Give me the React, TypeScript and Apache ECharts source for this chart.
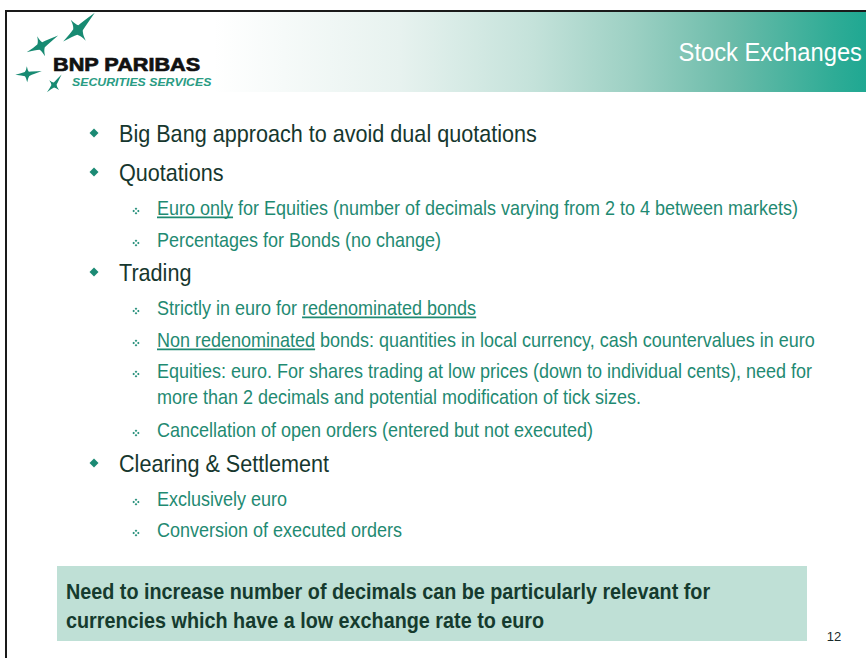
import React, { useEffect, useRef } from "react";
import * as echarts from "echarts";

// ---------- content ----------
const TITLE = "Stock Exchanges";
const LOGO_NAME = "BNP PARIBAS";
const LOGO_SUB = "SECURITIES SERVICES";
const PAGE_NUMBER = "12";

const outlineLevels = [1, 1, 2, 2, 1, 2, 2, 2, 2, 1, 2, 2];
const outlineTexts = [
  "Big Bang approach to avoid dual quotations",
  "Quotations",
  "Euro only for Equities (number of decimals varying from 2 to 4 between markets)",
  "Percentages for Bonds (no change)",
  "Trading",
  "Strictly in euro for redenominated bonds",
  "Non redenominated bonds: quantities in local currency, cash countervalues in euro",
  "Equities: euro. For shares trading at low prices (down to individual cents), need for\nmore than 2 decimals and potential modification of tick sizes.",
  "Cancellation of open orders (entered but not executed)",
  "Clearing & Settlement",
  "Exclusively euro",
  "Conversion of executed orders",
];
const underlineItems = [2, 5, 6];
const underlineTexts = ["Euro only", "redenominated bonds", "Non redenominated"];

const calloutLines = [
  "Need to increase number of decimals can be particularly relevant for",
  "currencies which have a low exchange rate to euro",
];

// ---------- layout ----------
const rowMiddles = [134, 173, 208, 240, 273, 308, 340, 371, 430, 464, 499, 530];
const LINE_GAP = 26;
const SX = 0.9;
const FONT_FAMILY = "'Liberation Sans', Arial, Helvetica, sans-serif";
const MAIN_SIZE = 24;
const SUB_SIZE = 20;
const MAIN_X = 119;
const SUB_X = 157;
const MAIN_BULLET_X = 94;
const SUB_BULLET_X = 136;

const C_MAIN = "#16372e";
const C_SUB = "#1f8a72";
const C_BULLET = "#1b8a74";
const C_BOX = "#bfe0d6";
const C_BOXTEXT = "#153b2e";

// bird (star) shape for the logo
const birdArms: [number, number][] = [
  [-40, 100],
  [60, 55],
  [148, 78],
  [240, 52],
];
function birdPath(): string {
  const n = birdArms.length;
  const P = (ang: number, r: number) => {
    const a = (ang * Math.PI) / 180;
    return [Math.cos(a) * r, Math.sin(a) * r];
  };
  let d = "";
  for (let i = 0; i < n; i++) {
    const [a, l] = birdArms[i];
    const [a2] = birdArms[(i + 1) % n];
    const end = a2 < a ? a2 + 360 : a2;
    const mid = (a + end) / 2;
    const tip = P(a, l);
    const inner = P(mid, 20);
    const c1 = P(a + 12, l * 0.45);
    const c2 = P(end - 12, birdArms[(i + 1) % n][1] * 0.45);
    if (i === 0) d += `M${tip[0].toFixed(2)},${tip[1].toFixed(2)}`;
    d += `Q${c1[0].toFixed(2)},${c1[1].toFixed(2)} ${inner[0].toFixed(2)},${inner[1].toFixed(2)}`;
    const nt = P(birdArms[(i + 1) % n][0], birdArms[(i + 1) % n][1]);
    d += `Q${c2[0].toFixed(2)},${c2[1].toFixed(2)} ${nt[0].toFixed(2)},${nt[1].toFixed(2)}`;
  }
  return d + "Z";
}

let registered = false;
function ensureShapes() {
  if (registered) return;
  registered = true;
  echarts.graphic.registerShape("logo", echarts.graphic.extendPath(birdPath(), {}) as any);
}

function measure(text: string, size: number, bold = false): number {
  const c = document.createElement("canvas");
  const ctx = c.getContext("2d");
  if (!ctx) return text.length * size * 0.5;
  ctx.font = `${bold ? "bold " : ""}${size}px ${FONT_FAMILY}`;
  return ctx.measureText(text).width;
}

function diamond(cx: number, cy: number, r: number, fill: string) {
  return {
    type: "polygon",
    silent: true,
    shape: { points: [[cx, cy - r], [cx + r, cy], [cx, cy + r], [cx - r, cy]] },
    style: { fill },
  };
}

function buildGraphics() {
  const els: any[] = [];
  // header gradient band
  els.push({
    type: "rect",
    silent: true,
    shape: { x: 214, y: 12, width: 652, height: 80 },
    style: {
      fill: new echarts.graphic.LinearGradient(0, 0, 1, 0, [
        { offset: 0, color: "#ffffff" },
        { offset: 0.285, color: "#e7f2ef" },
        { offset: 0.49, color: "#c4e2da" },
        { offset: 0.643, color: "#9cd0c3" },
        { offset: 0.796, color: "#6abba9" },
        { offset: 0.95, color: "#2fac96" },
        { offset: 1, color: "#1fa892" },
      ]),
    },
  });
  // borders
  els.push({ type: "rect", silent: true, shape: { x: 6, y: 10, width: 860, height: 2 }, style: { fill: "#1a1a1a" } });
  els.push({ type: "rect", silent: true, shape: { x: 5, y: 10, width: 2, height: 648 }, style: { fill: "#1a1a1a" } });

  // title
  els.push({
    type: "text",
    silent: true,
    x: 862,
    y: 52,
    scaleX: 0.95,
    style: {
      text: TITLE,
      font: `25px ${FONT_FAMILY}`,
      fill: "#ffffff",
      align: "right",
      verticalAlign: "middle",
    },
  });

  // logo birds
  const birds = [
    { x: 78, y: 30, s: 0.24, r: 0.1 },
    { x: 41, y: 46, s: 0.2, r: -0.15 },
    { x: 27, y: 74, s: 0.15, r: -0.5 },
    { x: 54, y: 85, s: 0.13, r: 0.25 },
  ];
  birds.forEach((b) => {
    els.push({
      type: "logo",
      silent: true,
      x: b.x,
      y: b.y,
      scaleX: b.s,
      scaleY: b.s,
      rotation: b.r,
      style: { fill: "#178a72" },
    });
  });
  els.push({
    type: "text",
    silent: true,
    x: 53,
    y: 64,
    scaleX: 1.14,
    style: {
      text: LOGO_NAME,
      font: `bold 19px ${FONT_FAMILY}`,
      fill: "#111111",
      stroke: "#111111",
      lineWidth: 0.7,
      align: "left",
      verticalAlign: "middle",
    },
  });
  els.push({
    type: "text",
    silent: true,
    x: 72,
    y: 82,
    scaleX: 1.12,
    style: {
      text: LOGO_SUB,
      font: `italic bold 11px ${FONT_FAMILY}`,
      fill: "#2a9c84",
      align: "left",
      verticalAlign: "middle",
    },
  });

  // outline
  outlineTexts.forEach((txt, i) => {
    const level = outlineLevels[i];
    const mid = rowMiddles[i];
    const size = level === 1 ? MAIN_SIZE : SUB_SIZE;
    const x = level === 1 ? MAIN_X : SUB_X;
    const color = level === 1 ? C_MAIN : C_SUB;
    if (level === 1) {
      els.push(diamond(MAIN_BULLET_X, mid - 1, 4.5, C_BULLET));
    } else {
      const cy = mid + 3;
      const d = 2.3;
      els.push(diamond(SUB_BULLET_X, cy - d, 1.3, C_BULLET));
      els.push(diamond(SUB_BULLET_X, cy + d, 1.3, C_BULLET));
      els.push(diamond(SUB_BULLET_X - d, cy, 1.3, C_BULLET));
      els.push(diamond(SUB_BULLET_X + d, cy, 1.3, C_BULLET));
    }
    const lines = txt.split("\n");
    lines.forEach((ln, k) => {
      els.push({
        type: "text",
        silent: true,
        x,
        y: mid + k * LINE_GAP,
        scaleX: SX,
        style: {
          text: ln,
          font: `${size}px ${FONT_FAMILY}`,
          fill: color,
          align: "left",
          verticalAlign: "middle",
        },
      });
    });
    const ui = underlineItems.indexOf(i);
    if (ui >= 0) {
      const sub = underlineTexts[ui];
      const pos = txt.indexOf(sub);
      if (pos >= 0) {
        const x0 = x + measure(txt.slice(0, pos), size) * SX;
        const w = measure(sub, size) * SX;
        els.push({
          type: "rect",
          silent: true,
          shape: { x: x0, y: mid + 8.5, width: w, height: 1.8 },
          style: { fill: C_SUB },
        });
      }
    }
  });

  // callout box
  els.push({
    type: "rect",
    silent: true,
    shape: { x: 57, y: 566, width: 750, height: 75 },
    style: { fill: C_BOX },
  });
  calloutLines.forEach((ln, k) => {
    els.push({
      type: "text",
      silent: true,
      x: 66,
      y: 591 + k * 29,
      scaleX: SX,
      style: {
        text: ln,
        font: `bold 22px ${FONT_FAMILY}`,
        fill: C_BOXTEXT,
        align: "left",
        verticalAlign: "middle",
      },
    });
  });

  // page number
  els.push({
    type: "text",
    silent: true,
    x: 834,
    y: 636,
    style: {
      text: PAGE_NUMBER,
      font: `13px ${FONT_FAMILY}`,
      fill: "#1a2a2a",
      align: "center",
      verticalAlign: "middle",
    },
  });
  return els;
}

export default function App() {
  const ref = useRef<HTMLDivElement>(null);
  useEffect(() => {
    if (!ref.current) return;
    ensureShapes();
    const chart = echarts.init(ref.current, undefined, { renderer: "svg" });
    chart.setOption({
      animation: false,
      backgroundColor: "#ffffff",
      graphic: { elements: buildGraphics() },
    });
    return () => chart.dispose();
  }, []);
  return (
    <div
      ref={ref}
      style={{ position: "fixed", left: 0, top: 0, width: 866, height: 658, background: "#ffffff" }}
    />
  );
}
